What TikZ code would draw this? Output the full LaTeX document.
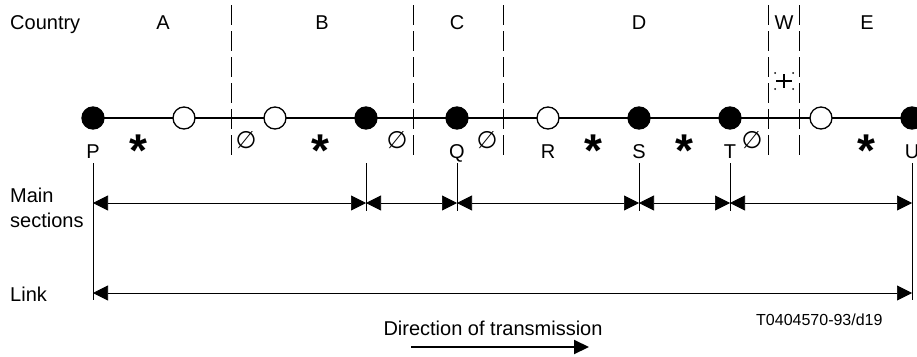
\documentclass[tikz,border=0pt]{standalone}
\usepackage{fontspec}
\setmainfont{Liberation Sans}
\newfontfamily\symfont{DejaVu Sans}
\usepackage{tikz}
\usetikzlibrary{arrows.meta,positioning,calc}

\begin{document}
\begin{tikzpicture}[x=1pt, y=-1pt, node distance=69pt, font=\fontsize{20}{24}\selectfont,
        station/.style={circle, draw, line width=1.3pt, minimum size=22pt, inner sep=0pt, outer sep=0pt},
        relay/.style={station, fill=black},
        repeater/.style={station, fill=white},
        txt/.style={anchor=base, inner sep=0pt},
        starsym/.style={txt, font=\fontsize{46}{46}\selectfont\bfseries},
        nullsym/.style={inner sep=0pt, font=\fontsize{24}{24}\symfont},
        border/.style={dash pattern=on 20pt off 6pt, line width=0.8pt},
        tick/.style={line width=0.7pt},
        span/.style={{Triangle[length=15pt,width=15pt]}-{Triangle[length=15pt,width=15pt]}, line width=0.7pt}]
        \useasboundingbox (0,0) rectangle (917,356);

        % countries
        \node[txt, anchor=base west] (country) at (10,29) {Country};
        \node[txt] (cA) at (163,29) {A};
        \node[txt] (cB) at (322,29) {B};
        \node[txt] (cC) at (457,29) {C};
        \node[txt] (cD) at (639,29) {D};
        \node[txt] (cW) at (784,29) {W};
        \node[txt] (cE) at (867,29) {E};

        \draw[border] (231,5) -- (231,157);
        \draw[border] (413,5) -- (413,157);
        \draw[border] (503,5) -- (503,157);
        \draw[border] (768,5) -- (768,157);
        \draw[border] (799,5) -- (799,157);

        % transit symbol in W
        \draw[line width=1.3pt] (776,81) -- (792,81);
        \draw[line width=1.3pt] (784,74) -- (784,88);
        \fill (775,73) circle (1pt) (793,73) circle (1pt) (775,89) circle (1pt) (793,89) circle (1pt);

        % stations
        \node[relay] (P) at (93,118) {};
        \node[repeater, right=of P] (a2) {};
        \node[repeater, right=of a2] (b1) {};
        \node[relay, right=of b1] (b2) {};
        \node[relay, right=of b2] (Q) {};
        \node[repeater, right=of Q] (R) {};
        \node[relay, right=of R] (S) {};
        \node[relay, right=of S] (T) {};
        \node[repeater, right=of T] (e1) {};
        \node[relay, right=of e1] (U) {};
        \draw[line width=1.5pt] (P) -- (a2) -- (b1) -- (b2) -- (Q) -- (R) -- (S) -- (T) -- (e1) -- (U);

        \node[txt] (pP) at ($(P)+(0,40)$) {P};
        \node[txt] (pQ) at ($(Q)+(0,40)$) {Q};
        \node[txt] (pR) at ($(R)+(0,40)$) {R};
        \node[txt] (pS) at ($(S)+(0,40)$) {S};
        \node[txt] (pT) at ($(T)+(0,40)$) {T};
        \node[txt] (pU) at ($(U)+(0,40)$) {U};

        \node[starsym] (s1) at ($(P)!0.5!(a2)+(0,48)$) {*};
        \node[starsym] (s2) at ($(b1)!0.5!(b2)+(0,48)$) {*};
        \node[starsym] (s3) at ($(R)!0.5!(S)+(0,48)$) {*};
        \node[starsym] (s4) at ($(S)!0.5!(T)+(0,48)$) {*};
        \node[starsym] (s5) at ($(e1)!0.5!(U)+(0,48)$) {*};

        \node[nullsym] (n1) at (246,140) {∅};
        \node[nullsym] (n2) at (397,140) {∅};
        \node[nullsym] (n3) at (487,140) {∅};
        \node[nullsym] (n4) at (752,140) {∅};

        % main sections and link
        \coordinate (mP) at ($(P)+(0,85)$);
        \coordinate (mb2) at ($(b2)+(0,85)$);
        \coordinate (mQ) at ($(Q)+(0,85)$);
        \coordinate (mS) at ($(S)+(0,85)$);
        \coordinate (mT) at ($(T)+(0,85)$);
        \coordinate (mU) at ($(U)+(0,85)$);
        \coordinate (lP) at ($(P)+(0,175)$);
        \coordinate (lU) at ($(U)+(0,175)$);

        \draw[tick] ($(P)+(0,45)$) -- ($(P)+(0,182)$);
        \draw[tick] ($(U)+(0,45)$) -- ($(U)+(0,182)$);
        \draw[tick] ($(b2)+(0,45)$) -- ($(b2)+(0,93)$);
        \draw[tick] ($(Q)+(0,45)$) -- ($(Q)+(0,93)$);
        \draw[tick] ($(S)+(0,45)$) -- ($(S)+(0,93)$);
        \draw[tick] ($(T)+(0,45)$) -- ($(T)+(0,93)$);

        \draw[span] (mP) -- (mb2);
        \draw[span] (mb2) -- (mQ);
        \draw[span] (mQ) -- (mS);
        \draw[span] (mS) -- (mT);
        \draw[span] (mT) -- (mU);
        \draw[span] (lP) -- (lU);

        \node[txt, anchor=base west] (main) at (10,202) {Main};
        \node[txt, anchor=base west] (sections) at (10,227) {sections};
        \node[txt, anchor=base west] (link) at (10,301) {Link};

        % direction
        \node[txt] (dir) at (493,335) {Direction of transmission};
        \coordinate (d0) at (411,347);
        \coordinate (d1) at (589,347);
        \draw[line width=2pt, -{Triangle[length=15pt,width=14pt]}] (d0) -- (d1);

        \node[txt, anchor=base west, font=\fontsize{16}{18}\selectfont] (ref) at (756,325) {T0404570-93/d19};
    \end{tikzpicture}
\end{document}
